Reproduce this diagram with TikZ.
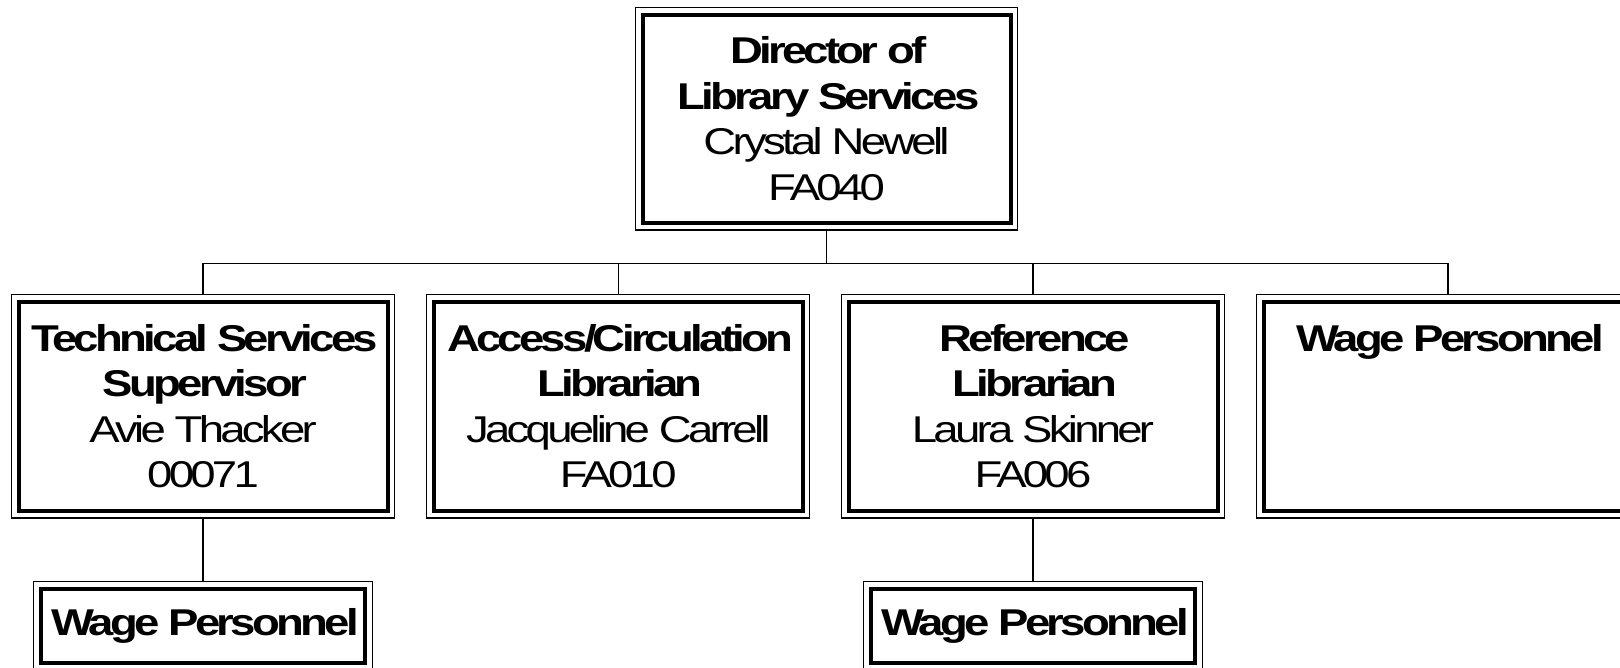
\documentclass[tikz,border=0pt]{standalone}
\usepackage{fontspec}
\setmainfont{Liberation Sans}[FakeStretch=1.22, LetterSpace=-10]
\begin{document}
\begin{tikzpicture}[x=1pt,y=-1pt,
  orgbox/.style={draw, line width=1.3pt, outer sep=0pt, inner sep=0pt, align=center,
    font=\fontsize{37.3}{45.5}\selectfont},
  bigbox/.style={orgbox, minimum width=383, minimum height=223.5},
  smallbox/.style={orgbox, minimum width=338.5, minimum height=88.5},
  innerline/.style={line width=4pt},
  conn/.style={line width=1.4pt}]
\useasboundingbox (0,0) rectangle (1620,667);
\fill[white] (0,0) rectangle (1620,667);
\node[bigbox, minimum width=382, minimum height=222.5] (dir) at (826.5,118.75)
  {\textbf{Director of}\\ \textbf{Library Services}\\ Crystal Newell\\ FA040};
\node[bigbox] (tech) at (203,406.3)
  {\textbf{Technical Services}\\ \textbf{Supervisor}\\ Avie Thacker\\ 00071};
\node[bigbox] (acc) at (618.3,406.3)
  {\textbf{Access/Circulation}\\ \textbf{Librarian}\\ Jacqueline Carrell\\ FA010};
\node[bigbox] (ref) at (1033,406.3)
  {\textbf{Reference}\\ \textbf{Librarian}\\ Laura Skinner\\ FA006};
\node[bigbox] (wage) at (1448,406.3)
  {\textbf{Wage Personnel}\\ ~\\ ~\\ ~};
\node[smallbox] (wt) at (203,625.75) {\textbf{Wage Personnel}};
\node[smallbox] (wr) at (1033,625.75) {\textbf{Wage Personnel}};
\foreach \n in {dir,tech,acc,ref,wage,wt,wr}
  \draw[innerline] ([shift={(7,7)}]\n.north west) rectangle ([shift={(-7,-7)}]\n.south east);
\coordinate (busy) at (0,263.3);
\draw[conn] (dir.south) -- (dir.south |- busy);
\draw[conn] (tech.north) -- (tech.north |- busy) -- (wage.north |- busy) -- (wage.north);
\draw[conn] (acc.north) -- (acc.north |- busy);
\draw[conn] (ref.north) -- (ref.north |- busy);
\draw[conn] (tech.south) -- (wt.north);
\draw[conn] (ref.south) -- (wr.north);
\end{tikzpicture}
\end{document}
